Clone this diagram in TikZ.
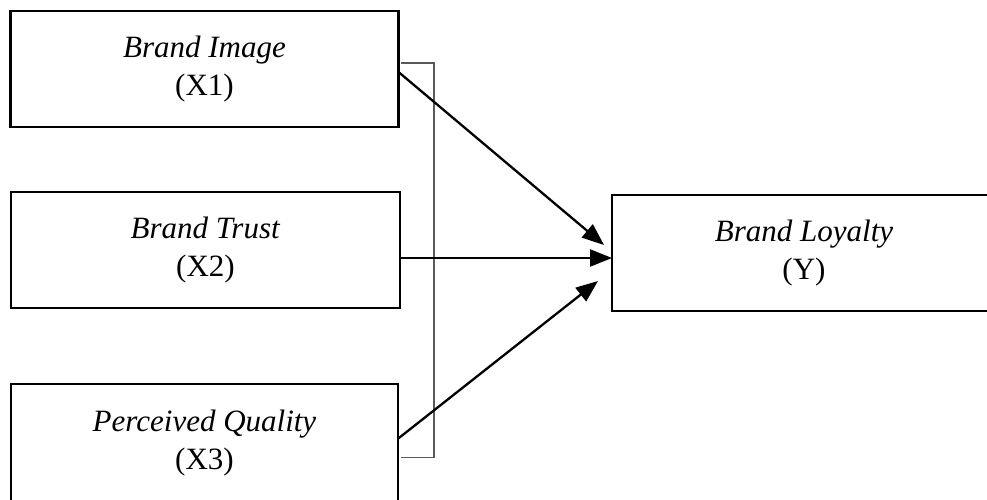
\documentclass[tikz,border=0pt]{standalone}
\usepackage{fontspec}
\setmainfont{Liberation Serif}
\usetikzlibrary{arrows.meta}
\begin{document}
\begin{tikzpicture}[x=1pt,y=-1pt,
  varbox/.style={draw=black,line width=2.2pt,rectangle,inner sep=0pt,outer sep=0pt,
    align=center,font=\fontsize{31}{38}\selectfont},
  path/.style={line width=2.3pt,-{Triangle[length=22pt,width=17pt]}},
  bracketline/.style={draw=black!65,line width=1.2pt}]
\useasboundingbox (0,0) rectangle (987,500);
\node[varbox,minimum width=388pt,minimum height=116pt] (b1) at (204.5,69) {\textit{Brand Image}\\(X1)};
\node[varbox,minimum width=389pt,minimum height=116pt] (b2) at (205.5,250) {\textit{Brand Trust}\\(X2)};
\node[varbox,minimum width=387.5pt,minimum height=118pt] (b3) at (204.5,443) {\textit{Perceived Quality}\\(X3)};
\node[varbox,minimum width=384pt,minimum height=116pt] (by) at (804,253) {\textit{Brand Loyalty}\\(Y)};
% bracket
\coordinate (bt) at ([xshift=2.5pt,yshift=6pt]b1.east);
\coordinate (bb) at ([xshift=3pt,yshift=-14.5pt]b3.east);
\draw[bracketline] (bt) -- ++(33,0) |- (bb);
% arrows
\draw[path] ([yshift=-3pt]b1.east) -- ([xshift=-8pt,yshift=8pt]by.west);
\draw[path] ([yshift=-8pt]b2.east) -- ([yshift=-8pt]b2.east -| by.west);
\draw[path] ([yshift=4.5pt]b3.east) -- ([xshift=-14pt,yshift=-28pt]by.west);
\end{tikzpicture}
\end{document}
